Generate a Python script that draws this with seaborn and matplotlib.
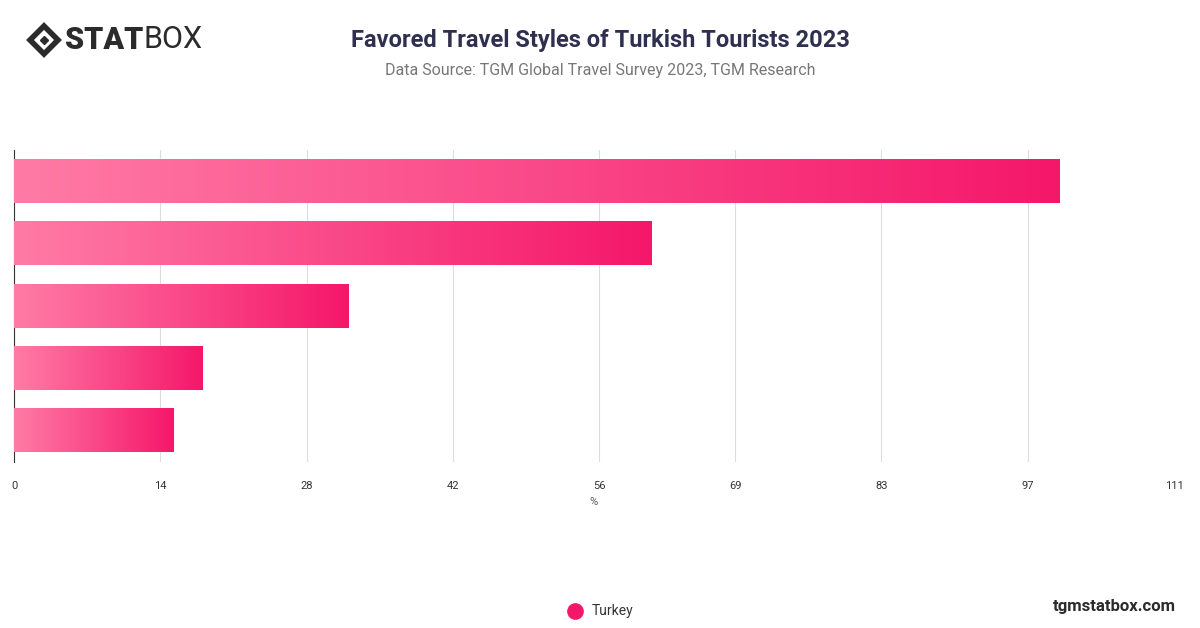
import matplotlib
matplotlib.use("Agg")
import matplotlib.pyplot as plt
import seaborn as sns
import numpy as np
import pandas as pd
from matplotlib.colors import LinearSegmentedColormap
from matplotlib.lines import Line2D

categories = ["Style 1", "Style 2", "Style 3", "Style 4", "Style 5"]
values = [100, 61, 32, 18, 15.3]
ticks = [0, 14, 28, 42, 56, 69, 83, 97, 111]
series = "Turkey"

sns.set_theme(style="white")
plt.rcParams['font.family'] = ['Roboto', 'DejaVu Sans']

fig = plt.figure(figsize=(12, 6.28), dpi=100)
ax = fig.add_axes([14/1200, 1-462/628, 1160/1200, (462-150)/628])
df = pd.DataFrame({"cat": categories, "val": values})
sns.barplot(data=df, x="val", y="cat", ax=ax, color="#F5176A", width=0.69, orient="h")

cmap = LinearSegmentedColormap.from_list("g", ["#FF7BA6", "#F5176A"])
grad = np.linspace(0, 1, 256).reshape(1, -1)
for p in ax.patches:
    x0, y0, w, h = p.get_x(), p.get_y(), p.get_width(), p.get_height()
    ax.imshow(grad, extent=[x0, x0 + w, y0 + h, y0], aspect="auto", cmap=cmap, zorder=3)
    p.set_visible(False)

ax.set_xlim(0, 111)
ax.set_ylim(4.5, -0.5)
ax.set_xticks(ticks)
ax.set_xticklabels([str(t) for t in ticks], fontsize=8, color="#333333")
ax.set_yticks([])
ax.set_ylabel("")
ax.set_xlabel("%", fontsize=8, color="#555555")
ax.grid(axis="x", color="#dddddd", linewidth=0.8, zorder=0)
ax.set_axisbelow(True)
for s in ["top", "right", "bottom"]:
    ax.spines[s].set_visible(False)
ax.spines["left"].set_color("#333333")
ax.spines["left"].set_linewidth(0.8)
ax.tick_params(axis="x", length=0, pad=14)

fig.text(0.5, 1-40/628, "Favored Travel Styles of Turkish Tourists 2023", ha="center", va="center",
         fontsize=17, fontweight="bold", color="#2f2f4f")
fig.text(0.5, 1-71/628, "Data Source: TGM Global Travel Survey 2023, TGM Research", ha="center", va="center",
         fontsize=11.5, color="#777777")

fig.add_artist(Line2D([44/1200], [1-40/628], marker="D", markersize=14, markerfacecolor="none",
                      markeredgecolor="#2b2b2b", markeredgewidth=4, transform=fig.transFigure))
fig.add_artist(Line2D([44/1200], [1-40/628], marker="D", markersize=4, color="#2b2b2b",
                      transform=fig.transFigure))
fig.text(65/1200, 1-40/628, "STAT", ha="left", va="center", fontsize=22, fontweight="black", color="#2b2b2b")
fig.text(143/1200, 1-40/628, "BOX", ha="left", va="center", fontsize=22, color="#2b2b2b")

fig.add_artist(Line2D([575/1200], [1-611/628], marker="o", markersize=11, color="#F5176A",
                      transform=fig.transFigure))
fig.text(592/1200, 1-611/628, series, ha="left", va="center", fontsize=10, color="#333333")
fig.text(1176/1200, 1-606/628, "tgmstatbox.com", ha="right", va="center", fontsize=12,
         fontweight="bold", color="#2b2b2b")

fig.savefig("out.png", dpi=100)
